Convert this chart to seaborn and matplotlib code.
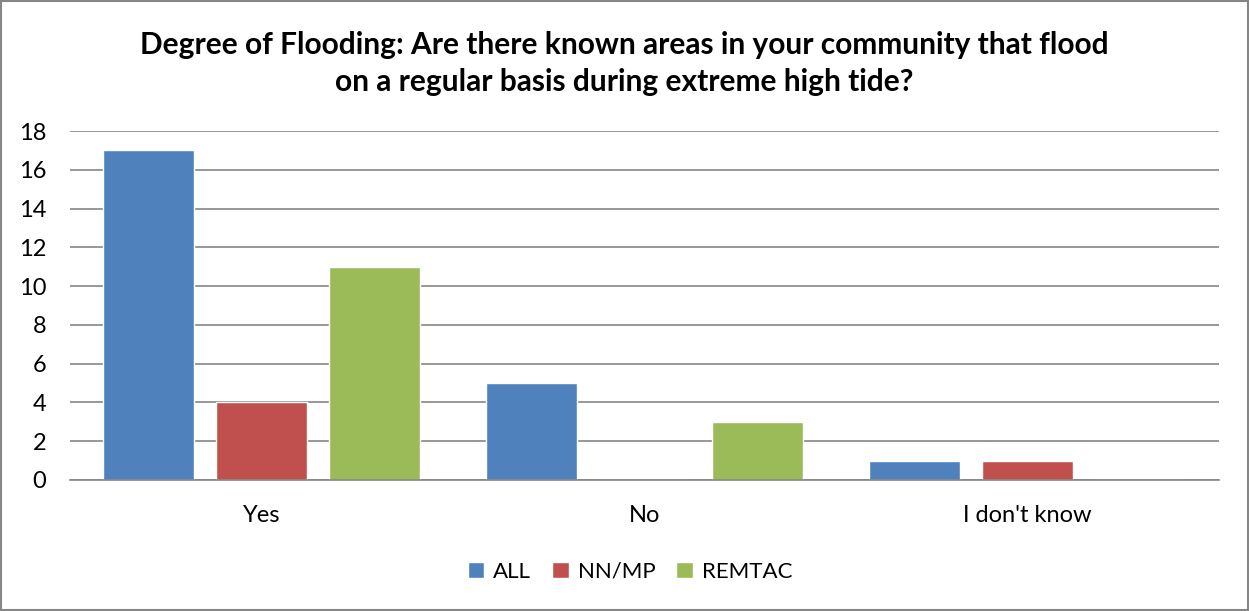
import matplotlib
matplotlib.use('Agg')
import matplotlib.pyplot as plt
import seaborn as sns
import pandas as pd
from matplotlib.patches import Rectangle

categories = ['Yes', 'No', "I don't know"]
groups = ['ALL', 'NN/MP', 'REMTAC']
all_vals = [17, 5, 1]
nnmp_vals = [4, 0, 1]
remtac_vals = [11, 3, 0]
colors = ['#4F81BD', '#C0504D', '#9BBB59']

df = pd.DataFrame({
    'Answer': categories * 3,
    'Group': [g for g in groups for _ in categories],
    'Count': all_vals + nnmp_vals + remtac_vals,
})

sns.set_style('white')
plt.rcParams['font.family'] = ['Lato', 'DejaVu Sans']
plt.rcParams['text.color'] = 'black'
plt.rcParams['xtick.color'] = 'black'
plt.rcParams['ytick.color'] = 'black'

fig = plt.figure(figsize=(12.49, 6.11), dpi=100)
ax = fig.add_axes([70/1249, 1-480/611, (1219-70)/1249, (480-131)/611])

sns.barplot(data=df, x='Answer', y='Count', hue='Group', palette=colors,
            width=0.885, gap=0.2, ax=ax, saturation=1, legend=True)

ax.set_ylim(0, 18)
ax.set_xlim(-0.5, 2.5)
ax.set_yticks(range(0, 19, 2))
ax.yaxis.grid(True, color='#868686', linewidth=1.2)
ax.set_axisbelow(True)
for s in ['top', 'right', 'left']:
    ax.spines[s].set_visible(False)
ax.spines['bottom'].set_color('#868686')
ax.spines['bottom'].set_linewidth(1.2)
ax.tick_params(axis='y', labelsize=17, length=0, pad=17)
ax.tick_params(axis='x', labelsize=17, length=0, pad=18)
ax.set_xlabel('')
ax.set_ylabel('')

ax.legend(loc='center', bbox_to_anchor=(630/1249, (611-572)/611), bbox_transform=fig.transFigure,
          ncol=3, frameon=False, fontsize=16, handlelength=0.75, handleheight=0.75,
          handletextpad=0.4, columnspacing=0.95)

fig.text(0.5, 1-45/611, 'Degree of Flooding: Are there known areas in your community that flood',
         ha='center', va='center', fontsize=21.5, fontweight='bold')
fig.text(0.5, 1-82/611, 'on a regular basis during extreme high tide?',
         ha='center', va='center', fontsize=21.5, fontweight='bold')

fig.patches.append(Rectangle((0.001, 0.002), 0.998, 0.996, transform=fig.transFigure,
                             fill=False, edgecolor='#868686', linewidth=1.5))

plt.savefig('out.png', dpi=100)
